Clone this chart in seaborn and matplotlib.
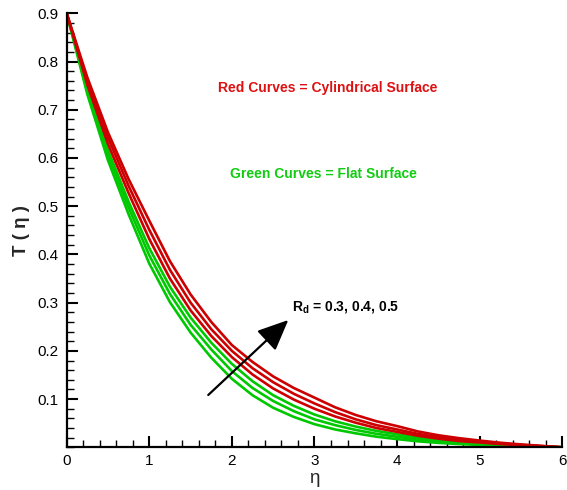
import matplotlib
matplotlib.use("Agg")
import matplotlib.pyplot as plt
from matplotlib.ticker import MultipleLocator, FixedLocator, FixedFormatter
import seaborn as sns
import pandas as pd

# similarity variable
eta = [0.0, 0.25, 0.5, 0.75, 1.0, 1.25, 1.5, 1.75, 2.0, 2.25, 2.5, 2.75, 3.0,
       3.25, 3.5, 3.75, 4.0, 4.25, 4.5, 4.75, 5.0, 5.25, 5.5, 5.75, 6.0]

rd_values = [0.3, 0.4, 0.5]

# temperature profiles, cylindrical surface
cyl_rd03 = [0.9, 0.752, 0.629, 0.527, 0.432, 0.350, 0.284, 0.231, 0.187, 0.151, 0.122, 0.099, 0.080,
            0.064, 0.051, 0.040, 0.032, 0.024, 0.018, 0.013, 0.010, 0.0068, 0.0042, 0.002, 0.0]
cyl_rd04 = [0.9, 0.760, 0.642, 0.542, 0.451, 0.368, 0.300, 0.245, 0.200, 0.164, 0.135, 0.111, 0.091,
            0.073, 0.058, 0.046, 0.037, 0.028, 0.021, 0.016, 0.012, 0.008, 0.005, 0.0025, 0.0]
cyl_rd05 = [0.9, 0.767, 0.653, 0.556, 0.470, 0.386, 0.317, 0.260, 0.212, 0.177, 0.147, 0.123, 0.103,
            0.083, 0.067, 0.054, 0.044, 0.033, 0.025, 0.019, 0.014, 0.0095, 0.006, 0.003, 0.0]

# temperature profiles, flat surface
flat_rd03 = [0.9, 0.732, 0.595, 0.483, 0.381, 0.301, 0.238, 0.186, 0.142, 0.108, 0.082, 0.063, 0.048,
             0.037, 0.029, 0.022, 0.017, 0.0125, 0.0092, 0.0068, 0.005, 0.0033, 0.002, 0.001, 0.0]
flat_rd04 = [0.9, 0.738, 0.606, 0.497, 0.398, 0.318, 0.254, 0.203, 0.158, 0.123, 0.096, 0.075, 0.058,
             0.046, 0.036, 0.028, 0.022, 0.016, 0.0115, 0.0083, 0.006, 0.004, 0.0025, 0.0012, 0.0]
flat_rd05 = [0.9, 0.744, 0.616, 0.509, 0.413, 0.333, 0.269, 0.217, 0.173, 0.137, 0.108, 0.086, 0.068,
             0.054, 0.043, 0.034, 0.027, 0.020, 0.015, 0.011, 0.008, 0.0054, 0.0033, 0.0016, 0.0]

x_ticks = [0, 1, 2, 3, 4, 5, 6]
x_tick_labels = ["0", "1", "2", "3", "4", "5", "6"]
y_ticks = [0.1, 0.2, 0.3, 0.4, 0.5, 0.6, 0.7, 0.8, 0.9]
y_tick_labels = ["0.1", "0.2", "0.3", "0.4", "0.5", "0.6", "0.7", "0.8", "0.9"]

RED = "#cc0000"
GREEN = "#00c800"

frames = []
for surface, series in (("flat", [flat_rd03, flat_rd04, flat_rd05]),
                        ("cyl", [cyl_rd03, cyl_rd04, cyl_rd05])):
    for rd, vals in zip(rd_values, series):
        frames.append(pd.DataFrame({"eta": eta, "T": vals,
                                    "curve": f"{surface}_{rd}"}))
df = pd.concat(frames, ignore_index=True)
palette = {c: (GREEN if c.startswith("flat") else RED) for c in df["curve"].unique()}

sns.set_style("ticks")
plt.rcParams["font.family"] = ["Liberation Sans", "DejaVu Sans"]
plt.rcParams["mathtext.fontset"] = "custom"
plt.rcParams["mathtext.bf"] = "Liberation Sans:bold"
plt.rcParams["mathtext.rm"] = "Liberation Sans"

fig = plt.figure(figsize=(5.67, 4.90), dpi=100)
ax = fig.add_axes([0.1176, 0.0871, 0.8741, 0.8858])

sns.lineplot(data=df, x="eta", y="T", hue="curve", palette=palette,
             estimator=None, sort=False, legend=False, lw=1.9, ax=ax)

ax.set_xlim(0, 6)
ax.set_ylim(0, 0.9)
ax.xaxis.set_major_locator(FixedLocator(x_ticks))
ax.xaxis.set_major_formatter(FixedFormatter(x_tick_labels))
ax.xaxis.set_minor_locator(MultipleLocator(0.2))
ax.yaxis.set_major_locator(FixedLocator(y_ticks))
ax.yaxis.set_major_formatter(FixedFormatter(y_tick_labels))
ax.yaxis.set_minor_locator(MultipleLocator(0.02))

for s in ("top", "right"):
    ax.spines[s].set_visible(False)
for s in ("left", "bottom"):
    ax.spines[s].set_linewidth(1.6)
    ax.spines[s].set_color("black")

ax.tick_params(which="major", direction="in", length=8, width=1.5,
               labelsize=11, pad=6, colors="black")
ax.tick_params(which="minor", direction="in", length=5, width=1.0, colors="black")
ax.tick_params(axis="x", which="major", pad=5)

ax.set_xlabel("η", fontsize=13.5, labelpad=1)
ax.set_ylabel("T ( η )", fontsize=13.5, fontweight="bold", labelpad=5)

ax.text(3.155, 0.745, "Red Curves = Cylindrical Surface", color="#dd1111",
        fontsize=10, fontweight="bold", ha="center", va="center")
ax.text(3.11, 0.566, "Green Curves = Flat Surface", color="#11cc11",
        fontsize=10, fontweight="bold", ha="center", va="center")

ax.annotate("", xy=(2.683, 0.264), xytext=(1.714, 0.1085),
            arrowprops=dict(arrowstyle="-|>,head_length=0.95,head_width=0.42",
                            mutation_scale=20, lw=1.6, color="black",
                            shrinkA=0, shrinkB=0))
ax.text(2.73, 0.291, r"R$_{\mathbf{d}}$ = 0.3, 0.4, 0.5", fontsize=10,
        fontweight="bold", ha="left", va="center", color="black")

fig.savefig("out.png", dpi=100)
